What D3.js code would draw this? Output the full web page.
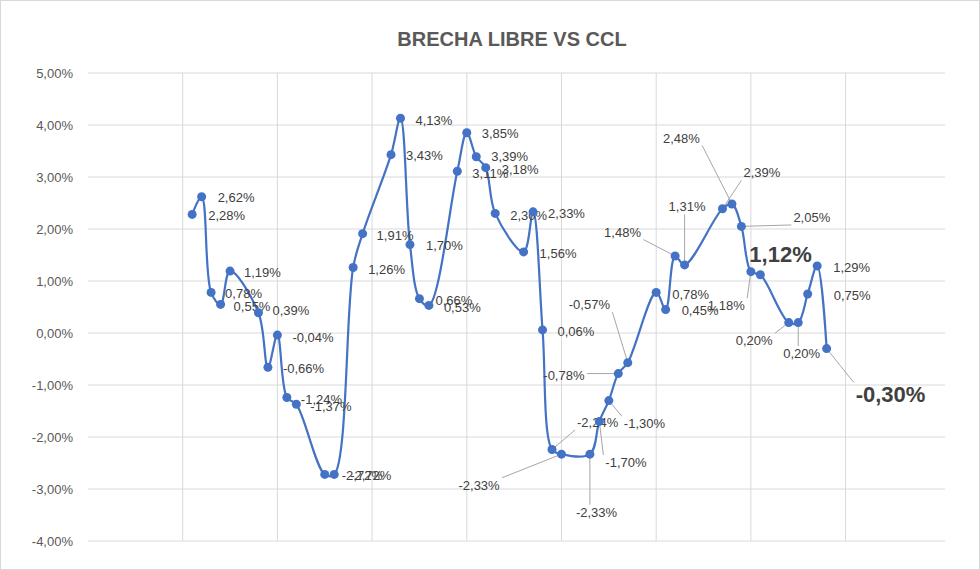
<!DOCTYPE html>
<html><head><meta charset="utf-8">
<script src="https://cdn.jsdelivr.net/npm/d3@7"></script>
<style>body{margin:0;background:#fff;font-family:"Liberation Sans",Arial,sans-serif}</style>
</head><body><svg id="c" width="980" height="570"></svg>
<script>
// day index of each observation (gaps are weekends)
var days = [1,2,3,4,5,8,9,10,11,12,15,16,18,19,22,23,24,25,26,29,30,31,32,33,36,37,38,39,40,43,44,45,46,47,50,51,52,53,57,58,59,60,61,64,65,66,67,68];
var brecha = [2.28,2.62,0.78,0.55,1.19,0.39,-0.66,-0.04,-1.24,-1.37,-2.72,-2.72,1.26,1.91,3.43,4.13,1.70,0.66,0.53,3.11,3.85,3.39,3.18,2.30,1.56,2.33,0.06,-2.24,-2.33,-2.33,-1.70,-1.30,-0.78,-0.57,0.78,0.45,1.48,1.31,2.39,2.48,2.05,1.18,1.12,0.20,0.20,0.75,1.29,-0.30];
var yTicks = [-4,-3,-2,-1,0,1,2,3,4,5];
var xGrid = [0,10,20,30,40,50,60,70];

// label placement: [dx, dy, leader, big]
var labelPos = [[16,1],[16,1],[14,1],[13,2],[14,1],[14,-2],[15,1],[15,2],[14,2],[14,2],[17,1],[16,1],
 [15,2],[14,2],[15,1],[15,2],[16,1],[16,2],[15,2],[15,2],[15,1],[15,0],[16,2],[15,2],[16,2],[15,2],[15,2],
 [25,-27,1],[-103,31,1],[-14,58,1],[6,41,1],[15,23,1],[-75,2,1],[-59,-58,1],[16,2],[16,1],[-71,-24,1],
 [-16,-58,1],[21,-36,1],[-69,-66,1],[52,-9,1],[-43,34,1],[-11,-20,0,1],[-53,18,1],[-15,31,1],[26,1],[16,2],[29,46,1,1]];

var svg = d3.select("#c");
svg.append("rect").attr("x",0.5).attr("y",0.5).attr("width",979).attr("height",569).attr("fill","#fff").attr("stroke","#d9d9d9");

var x = d3.scaleLinear().domain([-10,80.5]).range([88,945]);
var y = d3.scaleLinear().domain([-4,5]).range([541,73]);
var fmt = function(v){ return v.toFixed(2).replace(".",",") + "%"; };

svg.append("text").attr("x",512).attr("y",46).attr("text-anchor","middle")
  .attr("font-size",20).attr("font-weight","bold").attr("fill","#595959").text("BRECHA LIBRE VS CCL");

svg.selectAll(".hg").data(yTicks).join("line").attr("x1",88).attr("x2",945)
  .attr("y1",d=>y(d)).attr("y2",d=>y(d)).attr("stroke","#d9d9d9");
svg.selectAll(".vg").data(xGrid).join("line").attr("y1",73).attr("y2",541)
  .attr("x1",d=>x(d)).attr("x2",d=>x(d)).attr("stroke","#d9d9d9");
svg.selectAll(".yt").data(yTicks).join("text").attr("x",73).attr("y",d=>y(d)+5)
  .attr("text-anchor","end").attr("font-size",13).attr("fill","#595959").text(fmt);

var pts = days.map((d,i)=>({d:d, v:brecha[i], l:labelPos[i]}));
svg.append("path").datum(pts).attr("fill","none").attr("stroke","#4472C4").attr("stroke-width",2.2)
  .attr("d", d3.line().x(p=>x(p.d)).y(p=>y(p.v)).curve(d3.curveCatmullRom.alpha(0.5)));

var lg = svg.append("g");
pts.forEach(function(p){
  var px = x(p.d), py = y(p.v), big = p.l[3];
  var t = lg.append("text").attr("x",px+p.l[0]).attr("y",py+p.l[1]).attr("dy","0.35em")
    .attr("font-size", big?22:13).attr("font-weight", big?"bold":"normal")
    .attr("fill","#404040").text(fmt(p.v));
  if (p.l[2]) {
    var b = t.node().getBBox();
    var cx = Math.max(b.x-2, Math.min(px, b.x+b.width+2));
    var cy = Math.max(b.y, Math.min(py, b.y+b.height));
    if (cx>b.x && cx<b.x+b.width) cy = py<b.y ? b.y : b.y+b.height;
    lg.append("line").attr("x1",px).attr("y1",py).attr("x2",cx).attr("y2",cy)
      .attr("stroke","#a6a6a6").attr("stroke-width",1);
  }
});

svg.selectAll(".pt").data(pts).join("circle").attr("cx",p=>x(p.d)).attr("cy",p=>y(p.v))
  .attr("r",4.5).attr("fill","#4472C4");
</script></body></html>
